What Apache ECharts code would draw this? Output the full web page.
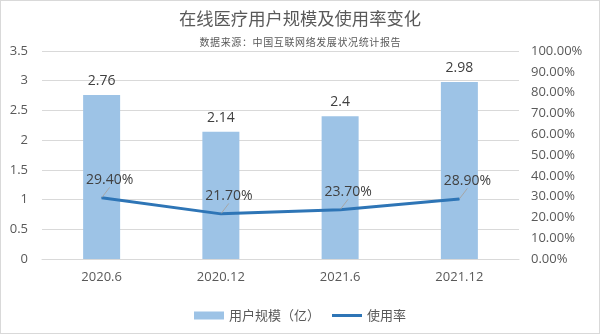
<!DOCTYPE html>
<html><head><meta charset="utf-8">
<script src="https://cdn.jsdelivr.net/npm/echarts@6/dist/echarts.min.js"></script>
<style>html,body{margin:0;padding:0;background:#fff}#c{width:598px;height:332px;border:1px solid #d9d9d9}</style>
</head><body><div id="c"></div>
<script>
const categories = ['2020.6','2020.12','2021.6','2021.12'];
const users = [2.76, 2.14, 2.4, 2.98];
const rate = [0.294, 0.217, 0.237, 0.289];
const leftTicks = [0, 3.5, 0.5];
const rightTicks = [0, 1, 0.1];

const chart = echarts.init(document.getElementById('c'));
const font = '"Noto Sans CJK SC", "Open Sans", sans-serif';
const numFont = '"Open Sans", "Noto Sans CJK SC", sans-serif';
const sub = '数据来源：中国互联网络发展状况统计报告'.split('').join('\u200A');
chart.setOption({
  animation:false,
  textStyle:{fontFamily:font},
  title:[
    {text:'在线医疗用户规模及使用率变化', left:'center', top:4, textStyle:{fontSize:17.3, fontWeight:'normal', color:'#595959', fontFamily:font}},
    {text:sub, left:'center', top:31, textStyle:{fontSize:10, fontWeight:'normal', color:'#595959', fontFamily:font}}
  ],
  grid:{left:41, right:80, top:50, bottom:74},
  legend:{bottom:6, left:'center', itemGap:12, textStyle:{fontSize:13, color:'#595959'},
    data:[{name:'用户规模（亿）', icon:'rect'},{name:'使用率', icon:'path://M0,0 L30,0 L30,3 L0,3 Z'}],
    itemWidth:30, itemHeight:8},
  xAxis:{type:'category', data:categories, axisTick:{show:false},
    axisLine:{lineStyle:{color:'#d9d9d9'}}, axisLabel:{fontSize:13, color:'#595959', margin:12, fontFamily:numFont}},
  yAxis:[
    {type:'value', min:leftTicks[0], max:leftTicks[1], interval:leftTicks[2],
     axisLabel:{fontSize:13, color:'#595959', margin:14, fontFamily:numFont}, splitLine:{lineStyle:{color:'#d9d9d9'}}, axisLine:{show:false}},
    {type:'value', min:rightTicks[0], max:rightTicks[1], interval:rightTicks[2], splitLine:{show:false},
     axisLabel:{fontSize:13, color:'#595959', margin:12, fontFamily:numFont, formatter:v=>(v*100).toFixed(2)+'%'}, axisLine:{show:false}}
  ],
  series:[
    {name:'用户规模（亿）', type:'bar', data:users, barWidth:37, itemStyle:{color:'#9dc3e6'},
     label:{show:true, position:'top', distance:7, fontSize:14, color:'#404040', fontFamily:numFont, formatter:p=>String(p.value)}},
    {name:'使用率', type:'line', yAxisIndex:1, data:rate, symbol:'circle', symbolSize:1, showSymbol:true,
     lineStyle:{color:'#2e75b6', width:3},
     itemStyle:{color:'#2e75b6'},
     label:{show:true, position:'top', distance:10, fontSize:14, color:'#404040', fontFamily:numFont, formatter:p=>(p.value*100).toFixed(2)+'%'},
     labelLine:{show:true, lineStyle:{color:'#a6a6a6', width:1}},
     labelLayout:{dx:8, dy:0}}
  ]
});
</script></body></html>
